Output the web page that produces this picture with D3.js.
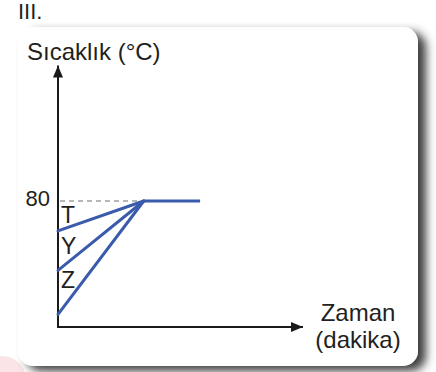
<!DOCTYPE html>
<html>
<head>
<meta charset="utf-8">
<script src="https://cdn.jsdelivr.net/npm/d3@7"></script>
<style>
  html, body { margin: 0; padding: 0; background: #ffffff; }
  svg { display: block; }
  text { font-family: "Liberation Sans", Arial, Helvetica, sans-serif; fill: #231f20; }
</style>
</head>
<body>
<script>
// ---- data ----
const categories = ["T", "Y", "Z"];
const startTemps = [61, 36, 8];          // °C at t = 0
const plateauTemp = 80;                   // °C
const meetTime = 35;                      // time when all reach 80
const endTime = 58;                       // end of plateau
const yTickLabels = ["80"];
const yTickValues = [80];
const title = "III.";
const yAxisLabel = "Sıcaklık (°C)";
const xAxisLabel = ["Zaman", "(dakika)"];

// ---- setup ----
const W = 436, H = 372;
const svg = d3.select("body").append("svg").attr("width", W).attr("height", H);

const defs = svg.append("defs");
const f = defs.append("filter").attr("id", "shadow")
  .attr("x", "-10%").attr("y", "-10%").attr("width", "130%").attr("height", "130%");
f.append("feDropShadow").attr("dx", 8).attr("dy", 5).attr("stdDeviation", 5)
  .attr("flood-color", "#333").attr("flood-opacity", 0.95);

defs.append("marker").attr("id", "arrow")
  .attr("viewBox", "0 0 12 10").attr("refX", 12).attr("refY", 5)
  .attr("markerWidth", 12).attr("markerHeight", 10)
  .attr("markerUnits", "userSpaceOnUse").attr("orient", "auto")
  .append("path").attr("d", "M0,0 L12,5 L0,10 Z").attr("fill", "#1a1a1a");

// faint pink watermark blob
svg.append("circle").attr("cx", 2).attr("cy", 380).attr("r", 24).attr("fill", "#fbe4e7");

// card
svg.append("rect").attr("x", 18).attr("y", 27).attr("width", 400).attr("height", 339)
  .attr("rx", 15).attr("ry", 15).attr("fill", "#ffffff").attr("filter", "url(#shadow)");

// title
svg.append("text").attr("x", 18).attr("y", 19).attr("font-size", 22).text(title);

// scales
const x = d3.scaleLinear().domain([0, 100]).range([58, 303]);
const y = d3.scaleLinear().domain([0, 80]).range([327, 201]);
const yTop = 166; // arrow tip value

// axes
const g = svg.append("g");
g.append("line").attr("x1", x(0)).attr("y1", y(0) + 1).attr("x2", x(0)).attr("y2", y(yTop))
  .attr("stroke", "#1a1a1a").attr("stroke-width", 2).attr("marker-end", "url(#arrow)");
g.append("line").attr("x1", x(0) - 1).attr("y1", y(0)).attr("x2", x(100)).attr("y2", y(0))
  .attr("stroke", "#1a1a1a").attr("stroke-width", 2).attr("marker-end", "url(#arrow)");

// dashed reference line at 80
g.selectAll(".ref").data(yTickValues).enter().append("line")
  .attr("x1", x(0) + 2).attr("x2", x(meetTime)).attr("y1", d => y(d)).attr("y2", d => y(d))
  .attr("stroke", "#a0a0a0").attr("stroke-width", 1.5).attr("stroke-dasharray", "5,4");

// tick labels
g.selectAll(".tick").data(yTickValues).enter().append("text")
  .attr("x", x(0) - 8).attr("y", d => y(d) + 5).attr("text-anchor", "end")
  .attr("font-size", 22).text((d, i) => yTickLabels[i]);

// series lines
const line = d3.line().x(d => x(d[0])).y(d => y(d[1]));
startTemps.forEach(s => {
  g.append("path").datum([[0, s], [meetTime, plateauTemp]])
    .attr("d", line).attr("fill", "none").attr("stroke", "#3a5aab")
    .attr("stroke-width", 3).attr("stroke-linecap", "round");
});
g.append("path").datum([[meetTime, plateauTemp], [endTime, plateauTemp]])
  .attr("d", line).attr("fill", "none").attr("stroke", "#3a5aab")
  .attr("stroke-width", 3).attr("stroke-linecap", "butt");

// series labels T, Y, Z (placed between lines)
const labelBaselines = [223, 254, 288];
categories.forEach((c, i) => {
  g.append("text").attr("x", x(0) + 3).attr("y", labelBaselines[i])
    .attr("font-size", 23).text(c);
});

// axis titles
svg.append("text").attr("x", 27).attr("y", 60).attr("font-size", 24).text(yAxisLabel);
svg.append("text").attr("x", 358).attr("y", 321).attr("text-anchor", "middle")
  .attr("font-size", 24).text(xAxisLabel[0]);
svg.append("text").attr("x", 358).attr("y", 348).attr("text-anchor", "middle")
  .attr("font-size", 24).text(xAxisLabel[1]);
</script>
</body>
</html>
